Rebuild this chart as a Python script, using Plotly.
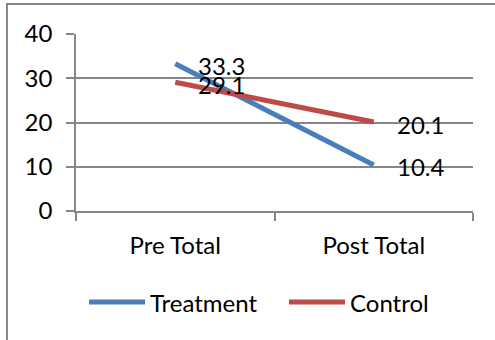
import plotly.graph_objects as go

categories = ["Pre Total", "Post Total"]
treatment = [33.3, 10.4]
control = [29.1, 20.1]
series_names = ["Treatment", "Control"]
colors = ["#4A7EBB", "#BE4B48"]

W, H = 495, 340
L, R, T, B = 76, 473, 34, 211
FONT = "Lato"
GRID = "#868686"

def px_x(x):
    return (x - L) / (R - L)

def px_y(y):
    return (B - y) / (B - T)

fig = go.Figure()
for name, vals, col in zip(series_names, [treatment, control], colors):
    fig.add_trace(go.Scatter(x=categories, y=vals, mode="lines", name=name,
                             line=dict(color=col, width=5), showlegend=False,
                             hoverinfo="skip"))
    for c, v in zip(categories, vals):
        fig.add_annotation(x=c, y=v, text=f"{v:.1f}", showarrow=False,
                           xanchor="left", yanchor="middle", xshift=21, yshift=-2,
                           font=dict(family=FONT, size=24, color="black"))

shapes = []
# chart border (cropped)
shapes.append(dict(type="rect", xref="paper", yref="paper",
                   x0=px_x(7), x1=px_x(520), y0=px_y(360), y1=px_y(4),
                   line=dict(color=GRID, width=2), fillcolor="rgba(0,0,0,0)", layer="below"))
# custom legend
leg = [(89, 145, 148), (289, 345, 348)]
for (x0, x1, tx), name, col in zip(leg, series_names, colors):
    shapes.append(dict(type="line", xref="paper", yref="paper",
                       x0=px_x(x0), x1=px_x(x1), y0=px_y(302), y1=px_y(302),
                       line=dict(color=col, width=5)))
    fig.add_annotation(xref="paper", yref="paper", x=px_x(tx), y=px_y(302),
                       text=name, showarrow=False, xanchor="left", yanchor="middle",
                       font=dict(family=FONT, size=24, color="black"))

fig.update_layout(
    width=W, height=H,
    margin=dict(l=L, r=W - R, t=T, b=H - B, pad=0),
    paper_bgcolor="white", plot_bgcolor="white",
    shapes=shapes,
    font=dict(family=FONT, size=24, color="black"),
    xaxis=dict(type="category", range=[-0.5, 1.5], tickson="boundaries",
               ticks="outside", ticklen=8, tickcolor=GRID, tickwidth=1.5,
               showline=True, linecolor=GRID, linewidth=1.5, showgrid=False,
               ticklabelstandoff=12, tickfont=dict(family=FONT, size=24)),
    yaxis=dict(range=[0, 40], dtick=10, tick0=0, ticks="outside", ticklen=8,
               tickcolor=GRID, tickwidth=1.5, showline=True, linecolor=GRID,
               linewidth=1.5, showgrid=True, gridcolor=GRID, gridwidth=1.5,
               zeroline=False, ticklabelstandoff=9, tickfont=dict(family=FONT, size=24)),
)

fig.write_html("out.html", config={"displayModeBar": False},
               post_script="document.body.style.margin='0';document.body.style.overflow='hidden';")
